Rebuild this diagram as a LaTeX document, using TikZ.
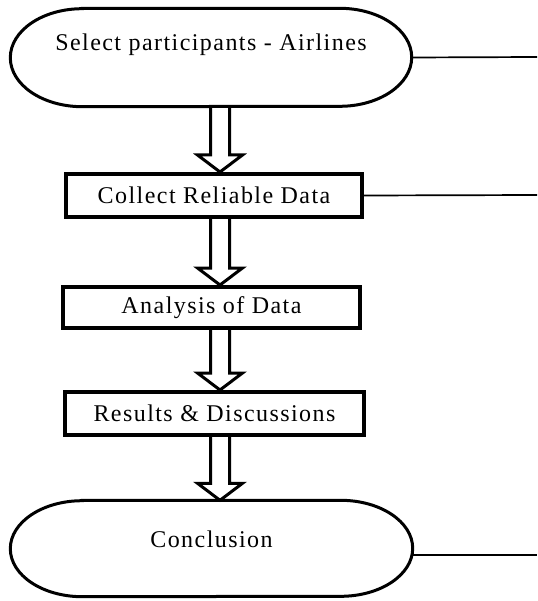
\documentclass[tikz,border=0pt]{standalone}
\usepackage{fontspec}
\setmainfont{Liberation Serif}[LetterSpace=6]
\usetikzlibrary{calc}

\newcommand{\termline}[1]{%
\draw[termborder] ([xshift=72pt]#1.north west) -- ([xshift=-72pt]#1.north east)
  arc[start angle=90, end angle=-90, x radius=72pt, y radius={0.5*\pgfkeysvalueof{/pgf/minimum height}}]
  -- ([xshift=72pt]#1.south west)
  arc[start angle=270, end angle=90, x radius=72pt, y radius={0.5*\pgfkeysvalueof{/pgf/minimum height}}] -- cycle;}
\newcommand{\flowarrow}[2]{%
\draw[hollow] ($(axis |- #1.south)+(-9.5,0)$) -- ($(axis |- #2.north)+(-9.5,-17)$)
  -- ($(axis |- #2.north)+(-22.5,-17)$) -- (axis |- #2.north)
  -- ($(axis |- #2.north)+(22.5,-17)$) -- ($(axis |- #2.north)+(9.5,-17)$)
  -- ($(axis |- #1.south)+(9.5,0)$);}

\begin{document}
\begin{tikzpicture}[x=1pt,y=-1pt]
\tikzstyle{every node}=[inner sep=0pt, font=\fontsize{24}{28}\selectfont]
\tikzstyle{term}=[rectangle, minimum width=401pt, minimum height=98pt, text height=17pt]
\tikzstyle{termborder}=[line width=3pt]
\tikzstyle{stepbox}=[rectangle, draw, line width=4pt, minimum width=297pt, minimum height=43pt]
\tikzstyle{hollow}=[line width=3pt, miter limit=10]
\tikzstyle{link}=[line width=1.7pt]
\fill[white] (0,0) rectangle (537,601);
\useasboundingbox (0,0) rectangle (537,601);
\coordinate (axis) at (220,0);
\draw (211,57.5) node (sel) [term, text depth=30pt] {Select participants - Airlines};
\draw (214,195.5) node (col) [stepbox, minimum width=296pt] {Collect Reliable Data};
\draw (211.5,307.5) node (ana) [stepbox, minimum height=41pt] {Analysis of Data};
\draw (214.5,413.5) node (res) [stepbox, minimum width=299pt] {Results \& Discussions};
\draw (211.5,548.5) node (con) [term, minimum width=402pt, minimum height=96pt, text depth=20pt] {Conclusion};
\begin{scope}[minimum height=98pt]
\termline{sel}
\end{scope}
\begin{scope}[minimum height=96pt]
\termline{con}
\end{scope}
\coordinate (e1) at (537,57);
\coordinate (e2) at (537,195);
\coordinate (e3) at (537,555);
\draw[link] (sel.east) -- (e1);
\draw[link] (col.east) -- (e2);
\draw[link] ([yshift=-6.5pt]con.east) -- (e3);
\flowarrow{sel}{col}
\flowarrow{col}{ana}
\flowarrow{ana}{res}
\flowarrow{res}{con}
\end{tikzpicture}
\end{document}
